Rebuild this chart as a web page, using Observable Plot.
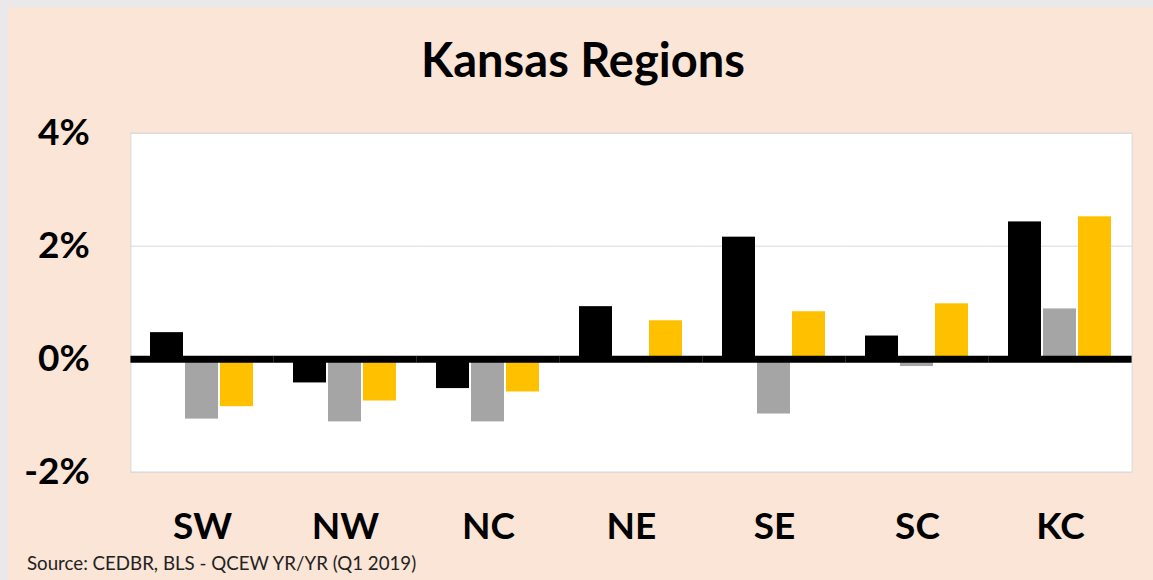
<!DOCTYPE html>
<html>
<head>
<meta charset="utf-8">
<script src="https://cdn.jsdelivr.net/npm/d3@7"></script>
<script src="https://cdn.jsdelivr.net/npm/@observablehq/plot@0.6"></script>
<style>
  html, body { margin: 0; padding: 0; }
  body { width: 1153px; height: 580px; background: #e9e9eb; position: relative; overflow: hidden; font-family: Lato, "Noto Sans", sans-serif; }
  #page { position: absolute; left: 8px; top: 7px; width: 1145px; height: 573px; background: #FBE5D6; }
  #title { position: absolute; left: 0; width: 1150px; top: 29px; text-align: center; font-size: 47px; line-height: 47px; font-weight: bold; color: #000; }
  #chart { position: absolute; left: 0; top: 100px; }
  #source { position: absolute; left: 19px; top: 547px; font-size: 18.7px; line-height: 19px; color: #222; }
</style>
</head>
<body>
<div id="page">
  <div id="title">Kansas Regions</div>
  <div id="chart"></div>
  <div id="source">Source: CEDBR, BLS - QCEW YR/YR (Q1 2019)</div>
</div>
<script>
const regions = ["SW", "NW", "NC", "NE", "SE", "SC", "KC"];
const seriesNames = ["Series 1", "Series 2", "Series 3"];
const series1 = [0.47, -0.42, -0.52, 0.93, 2.16, 0.41, 2.43];
const series2 = [-1.06, -1.11, -1.11, 0, -0.97, -0.13, 0.89];
const series3 = [-0.84, -0.74, -0.58, 0.68, 0.84, 0.98, 2.52];
const seriesColors = ["#000000", "#A5A5A5", "#FFC000"];
const yTicks = [-2, 0, 2, 4];

const allSeries = [series1, series2, series3];
const data = [];
regions.forEach((r, i) => {
  allSeries.forEach((s, j) => data.push({region: r, series: seriesNames[j], value: s[i]}));
});

// half of the gap between facets, so that horizontal rules and the panel run continuously
const fxPadInner = 0.26, fxPadOuter = 0.13;
const plotW = 1145 - 122 - 22;
const step = plotW / (regions.length - fxPadInner + 2 * fxPadOuter);
const halfGap = fxPadOuter * step;

const chart = Plot.plot({
  width: 1145,
  height: 438,
  marginLeft: 122,
  marginRight: 22,
  marginTop: 25.7,
  marginBottom: 73.3,
  style: {background: "transparent", fontFamily: "Lato, 'Noto Sans', sans-serif", color: "#000", overflow: "visible"},
  fx: {domain: regions, paddingInner: fxPadInner, paddingOuter: fxPadOuter, label: null},
  x: {domain: seriesNames, paddingInner: 0.05, paddingOuter: 0, axis: null},
  y: {domain: [-2, 4], label: null},
  color: {domain: seriesNames, range: seriesColors},
  marks: [
    Plot.frame({facet: "super", fill: "white", stroke: "#d9d9d9", insetLeft: -halfGap, insetRight: -halfGap}),
    Plot.ruleY(yTicks, {stroke: "#d9d9d9", strokeWidth: 1, insetLeft: -halfGap, insetRight: -halfGap}),
    Plot.barY(data, {fx: "region", x: "series", y: "value", fill: "series"}),
    Plot.ruleY([0], {stroke: "#000", strokeWidth: 7, insetLeft: -halfGap, insetRight: -halfGap}),
    Plot.axisY({ticks: yTicks, tickFormat: d => d + "%", tickSize: 0, tickPadding: 41 + halfGap, fontSize: 37, fontWeight: "bold", label: null}),
    Plot.axisFx({anchor: "bottom", tickSize: 0, tickPadding: 41, fontSize: 37, fontWeight: "bold", label: null})
  ]
});
document.getElementById("chart").appendChild(chart);
</script>
</body>
</html>
